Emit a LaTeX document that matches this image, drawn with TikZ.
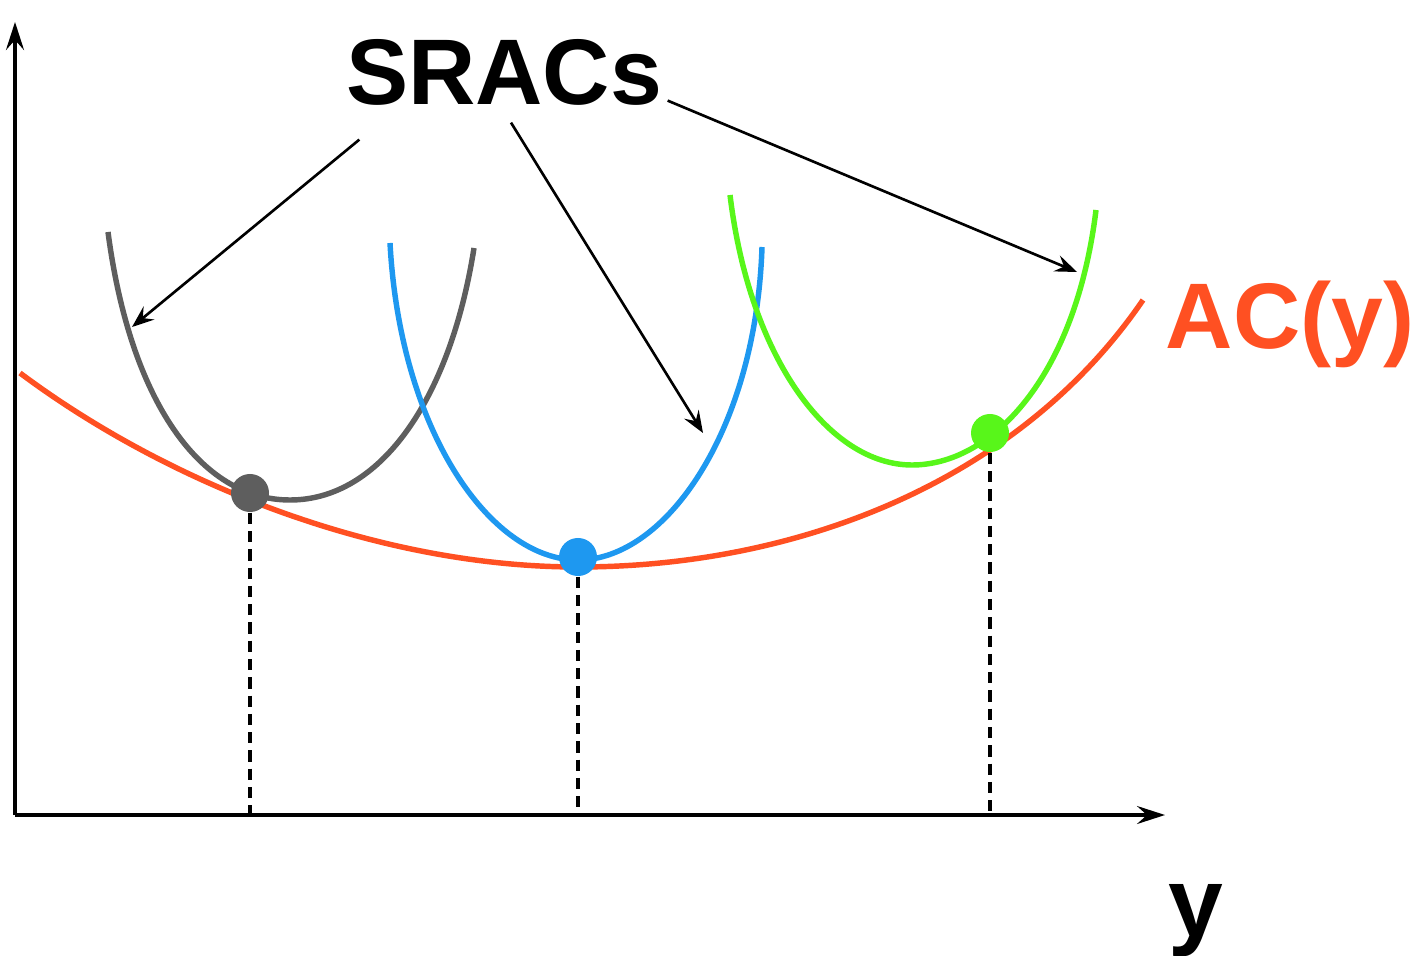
\documentclass[tikz,border=0pt]{standalone}
\usepackage{fontspec}
\setmainfont{Liberation Sans}
\usepackage{tikz}
\usetikzlibrary{arrows.meta,positioning}
\definecolor{acorange}{RGB}{255,80,34}
\definecolor{sracgray}{RGB}{94,94,94}
\definecolor{sracblue}{RGB}{30,152,240}
\definecolor{sracgreen}{RGB}{88,246,26}

\begin{document}
\begin{tikzpicture}[
  x=0.01cm, y=-0.01cm,
  axis/.style={-{Stealth[length=2.8mm, width=1.8mm, inset=1mm]}, line width=0.9pt},
  costline/.style={line width=1.55pt},
  arr/.style={-{Stealth[length=2.2mm, width=1.7mm, inset=0.8mm]}, line width=0.75pt},
  drop/.style={dash pattern=on 3.2pt off 2pt, line width=1pt},
  tangent/.style={circle, minimum size=3.8mm, inner sep=0pt},
  biglabel/.style={font=\fontsize{26.5}{30}\selectfont\bfseries, inner sep=0pt}
]
\useasboundingbox (0,0) rectangle (1416,955);

% axes
\coordinate (origin) at (15,815);
\coordinate (ytop) at (15,22);
\coordinate (xend) at (1165,815);
\draw[axis] (origin) -- (ytop);
\draw[axis] (origin) -- (xend);

% long-run average cost
\draw[costline, acorange] (20,373) .. controls (170,485) and (380,567) .. (578,567)
  .. controls (800,567) and (1020,480) .. (1143,300);

% short-run average costs
\draw[costline, sracgray] (108,232) .. controls (130,400) and (200,500) .. (290,500)
  .. controls (380,500) and (450,400) .. (474,248);
\draw[costline, sracblue] (390,243) .. controls (400,430) and (490,560) .. (578,560)
  .. controls (666,560) and (756,430) .. (762,247);
\draw[costline, sracgreen] (730,195) .. controls (750,360) and (830,465) .. (912,465)
  .. controls (990,465) and (1075,380) .. (1096,210);

% tangency points
\node[tangent, fill=sracgray] (tgray) at (250,493) {};
\node[tangent, fill=sracblue] (tblue) at (578,557) {};
\node[tangent, fill=sracgreen] (tgreen) at (990,433) {};

\draw[drop] (tgray) -- (tgray |- origin);
\draw[drop] (tblue) -- (tblue |- origin);
\draw[drop] (tgreen) -- (tgreen |- origin);

% labels
\node[biglabel, anchor=base] (sracs) at (504,105) {SRACs};
\node[biglabel, anchor=base west, text=acorange] (aclabel) at (1165,348) {AC(y)};
\node[biglabel, anchor=base, font=\fontsize{28}{30}\selectfont\bfseries] (ylabel) at (1196,936) {y};

\coordinate (graytip) at (132,327);
\coordinate (bluetip) at (703,433);
\coordinate (greentip) at (1077,272);
\draw[arr] ([shift={(14,33)}]sracs.south west) -- (graytip);
\draw[arr] ([shift={(7,16)}]sracs.south) -- (bluetip);
\draw[arr] ([shift={(5,-6)}]sracs.south east) -- (greentip);
\end{tikzpicture}
\end{document}
